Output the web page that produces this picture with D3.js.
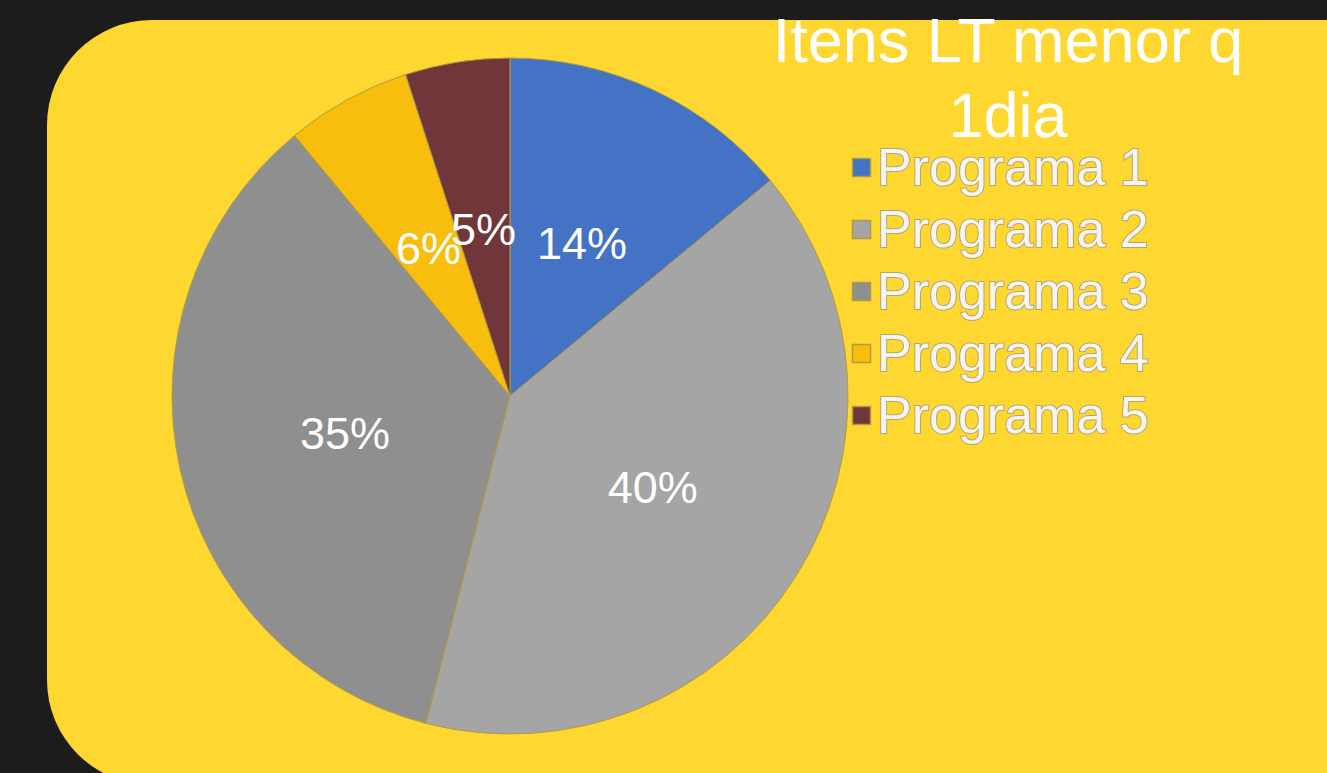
<!DOCTYPE html>
<html>
<head>
<meta charset="utf-8">
<script src="https://cdn.jsdelivr.net/npm/d3@7"></script>
<style>
	html, body { margin: 0; padding: 0; background: #1c1c1c; }
	svg { display: block; }
</style>
</head>
<body>
<div id="chart"></div>
<script>
const programas = ['Programa 1', 'Programa 2', 'Programa 3', 'Programa 4', 'Programa 5'];
const valores = [14, 40, 35, 6, 5];
const cores = ['#4472c4', '#a5a5a5', '#8f8f8f', '#f7be0e', '#70363a'];
const tituloLinhas = ['Itens LT menor q', '1dia'];

const width = 1327;
const height = 773;

const svg = d3.select('#chart')
	.append('svg')
	.attr('width', width)
	.attr('height', height);

svg.append('rect')
	.attr('width', width)
	.attr('height', height)
	.attr('fill', '#1c1c1c');

// painel amarelo
svg.append('rect')
	.attr('x', 47)
	.attr('y', 20)
	.attr('width', 1400)
	.attr('height', 765)
	.attr('rx', 105)
	.attr('ry', 105)
	.attr('fill', '#ffd731');

const cx = 510, cy = 396, r = 338;

const pie = d3.pie()
	.value((d) => d)
	.sort(null);

const arc = d3.arc()
	.innerRadius(0)
	.outerRadius(r);

const g = svg.append('g')
	.attr('transform', `translate(${cx},${cy})`);

const arcs = pie(valores);

g.selectAll('path.slice')
	.data(arcs)
	.enter()
	.append('path')
	.attr('class', 'slice')
	.attr('d', arc)
	.attr('fill', (d, i) => cores[i])
	.attr('stroke', '#b39c3c')
	.attr('stroke-width', 1);

g.selectAll('text.pct')
	.data(arcs)
	.enter()
	.append('text')
	.attr('class', 'pct')
	.attr('transform', (d) => `translate(${arc.centroid(d)})`)
	.attr('text-anchor', 'middle')
	.attr('dy', '0.36em')
	.attr('font-family', '"Liberation Sans", Arial, sans-serif')
	.attr('font-size', 45)
	.attr('fill', '#ffffff')
	.text((d) => `${d.data}%`);

// legenda
const legend = svg.append('g')
	.attr('transform', 'translate(852,185)');

const item = legend.selectAll('g.item')
	.data(programas)
	.enter()
	.append('g')
	.attr('class', 'item')
	.attr('transform', (d, i) => `translate(0,${i * 62})`);

item.append('rect')
	.attr('x', 0.5)
	.attr('y', -26.5)
	.attr('width', 18)
	.attr('height', 18)
	.attr('fill', (d, i) => cores[i])
	.attr('stroke', '#b09a45')
	.attr('stroke-width', 1.5);

item.append('text')
	.attr('x', 25)
	.attr('y', 0)
	.attr('font-family', '"Liberation Sans", Arial, sans-serif')
	.attr('font-size', 52)
	.attr('fill', '#f6f5f0')
	.attr('stroke', '#b2a57a')
	.attr('stroke-width', 2)
	.attr('paint-order', 'stroke')
	.text((d) => d);

// titulo
svg.append('g')
	.selectAll('text')
	.data(tituloLinhas)
	.enter()
	.append('text')
	.attr('x', 1008)
	.attr('y', (d, i) => 62 + i * 75)
	.attr('text-anchor', 'middle')
	.attr('font-family', '"Liberation Sans", Arial, sans-serif')
	.attr('font-size', 63)
	.attr('fill', '#ffffff')
	.text((d) => d);
</script>
</body>
</html>
